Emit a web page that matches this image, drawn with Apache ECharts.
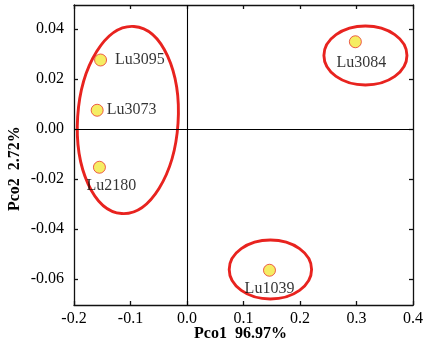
<!DOCTYPE html>
<html>
<head>
<meta charset="utf-8">
<script src="https://cdn.jsdelivr.net/npm/echarts@6/dist/echarts.min.js"></script>
<style>
  html, body { margin: 0; padding: 0; background: #fff; }
  #chart { width: 426px; height: 349px; }
</style>
</head>
<body>
<div id="chart"></div>
<script>
// samples
const names = ['Lu3095', 'Lu3073', 'Lu2180', 'Lu3084', 'Lu1039']
const pco1 = [-0.153, -0.159, -0.155, 0.298, 0.146]
const pco2 = [0.0277, 0.0076, -0.0152, 0.035, -0.0564]

// group outlines (centre and radii in data units, tilt in radians)
const groupCx = [-0.1047, 0.3158, 0.1476]
const groupCy = [0.0037, 0.0295, -0.0561]
const groupRx = [0.0890, 0.0735, 0.0729]
const groupRy = [0.0375, 0.0118, 0.0118]
const groupTilt = [-0.065, 0, 0]

// ticks
const xTicks = [-0.2, -0.1, 0.0, 0.1, 0.2, 0.3, 0.4]
const yTicks = [-0.06, -0.04, -0.02, 0.0, 0.02, 0.04]

const SERIF = '"Liberation Serif", "DejaVu Serif", serif'

const labelPlace = {
  Lu3095: { position: 'right', distance: 8 },
  Lu3073: { position: 'right', distance: 3 },
  Lu2180: { position: 'bottom', distance: 4, offset: [12, 0] },
  Lu3084: { position: 'bottom', distance: 7, offset: [6, 0] },
  Lu1039: { position: 'bottom', distance: 4, offset: [0, 0] },
}

const chart = echarts.init(document.getElementById('chart'))

const axisBase = {
  type: 'value',
  axisLine: { show: true, onZero: false, lineStyle: { color: '#111', width: 1.3 } },
  axisTick: { show: true, inside: true, length: 4, lineStyle: { color: '#111', width: 1.3 } },
  splitLine: { show: false },
}

chart.setOption({
  animation: false,
  grid: { left: 74, right: 12, top: 5, bottom: 44 },
  xAxis: [
    {
      ...axisBase,
      min: -0.2, max: 0.4,
      axisLabel: {
        customValues: xTicks, margin: 6,
        color: '#000', fontFamily: SERIF, fontSize: 16,
        formatter: (v) => v.toFixed(1),
      },
      axisTick: { ...axisBase.axisTick, customValues: xTicks },
    },
    {
      ...axisBase,
      position: 'top',
      min: -0.2, max: 0.4,
      axisLabel: { show: false },
      axisTick: { ...axisBase.axisTick, customValues: xTicks },
    },
  ],
  yAxis: [
    {
      ...axisBase,
      min: -0.0703, max: 0.0497,
      axisLabel: {
        customValues: yTicks, margin: 10,
        color: '#000', fontFamily: SERIF, fontSize: 16,
        formatter: (v) => v.toFixed(2),
      },
      axisTick: { ...axisBase.axisTick, customValues: yTicks },
    },
    {
      ...axisBase,
      position: 'right',
      min: -0.0703, max: 0.0497,
      axisLabel: { show: false },
      axisTick: { ...axisBase.axisTick, customValues: yTicks },
    },
  ],
  graphic: [
    {
      type: 'text', left: 194, top: 326,
      style: { text: 'Pco1  96.97%', fill: '#000', font: 'bold 16px ' + SERIF },
    },
    {
      type: 'text', x: 7, y: 211, rotation: Math.PI / 2,
      style: { text: 'Pco2  2.72%', fill: '#000', font: 'bold 16px ' + SERIF },
    },
  ],
  series: [
    {
      type: 'custom',
      silent: true,
      z: 3,
      data: groupCx.map((cx, i) => [cx, groupCy[i], groupRx[i], groupRy[i], groupTilt[i]]),
      renderItem: (params, api) => {
        const c = api.coord([api.value(0), api.value(1)])
        const s = api.size([api.value(2), api.value(3)])
        return {
          type: 'ellipse',
          x: c[0], y: c[1],
          rotation: api.value(4),
          shape: { cx: 0, cy: 0, rx: s[0], ry: s[1] },
          style: { fill: 'none', stroke: '#e8231f', lineWidth: 2.9 },
        }
      },
    },
    {
      type: 'scatter',
      z: 4,
      symbolSize: 12,
      itemStyle: { color: '#f3e93c', borderColor: '#e8372a', borderWidth: 1 },
      data: names.map((n, i) => ({
        value: [pco1[i], pco2[i]],
        name: n,
        label: {
          show: true,
          formatter: n,
          color: '#000',
          fontFamily: SERIF,
          fontSize: 16,
          ...labelPlace[n],
        },
      })),
      markLine: {
        silent: true,
        symbol: 'none',
        label: { show: false },
        lineStyle: { color: '#000', width: 1.1, type: 'solid' },
        data: [{ xAxis: 0 }, { yAxis: 0 }],
      },
    },
  ],
})
</script>
</body>
</html>
